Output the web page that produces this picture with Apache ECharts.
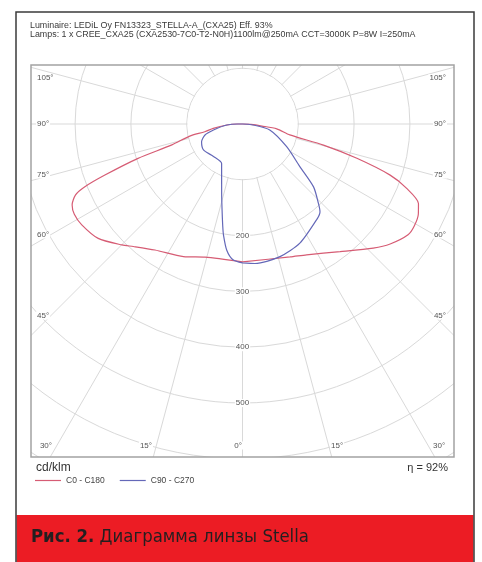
<!DOCTYPE html>
<html>
<head>
<meta charset="utf-8">
<script src="https://cdn.jsdelivr.net/npm/echarts@6.0.0/dist/echarts.min.js"></script>
<style>
  html, body { margin: 0; padding: 0; background: #fff; }
  #chart { width: 482px; height: 562px; }
</style>
</head>
<body>
<div id="chart"></div>
<script>
// gamma angle (deg from nadir) and intensity (cd/klm)
// C0 - C180 plane: left half = C180, right half = C0
const c180Deg = [0, 15.7, 24, 34.8, 41.7, 44.9, 51.6, 57.9, 61.8, 64.6, 67, 68.3, 69.65, 71.8, 73.5, 77.1, 78.4, 81.6, 86.4, 90];
const c180Val = [247, 248, 260, 275, 294, 306, 330, 340, 342, 338, 325, 304, 263, 197, 132, 97, 69, 53, 28, 10];
const c0Deg = [0, 19.65, 26.1, 37.4, 46.5, 50.9, 56.2, 59.3, 62.9, 65.7, 68.6, 70.9, 73.3, 75.4, 77, 82, 84, 87, 90];
const c0Val = [247, 253, 261, 288, 323, 341, 357, 358, 354, 346, 316, 280, 214, 150, 87, 62, 35, 15, 0];
// C90 - C270 plane: left half = C270, right half = C90
const c270Deg = [0, 4, 7.1, 9.7, 10.9, 13.4, 16.7, 22.2, 27.9, 41.8, 56.4, 66.5, 73.7, 78.4, 86.4, 90];
const c270Val = [249, 244, 228, 202, 187, 158, 130, 99, 80, 78, 84, 80, 70, 53, 28, 8];
const c90Deg = [0, 5.1, 15.8, 25.7, 37.7, 41.4, 43.7, 48.5, 53.4, 62.8, 77.7, 84.7, 90];
const c90Val = [249, 251, 247, 237, 217, 210, 197, 170, 128, 89, 50, 19, 0];

const seriesNames = ['C0 - C180', 'C90 - C270'];
const radiusLabels = [200, 300, 400, 500];
const angleLabelsLeft = ['105°', '90°', '75°', '60°', '45°', '30°', '15°', '0°'];
const angleLabelsRight = ['105°', '90°', '75°', '60°', '45°', '30°', '15°'];

const titleLine1 = 'Luminaire: LEDiL Oy FN13323_STELLA-A_(CXA25) Eff. 93%';
const titleLine2 = 'Lamps: 1 x CREE_CXA25 (CXA2530-7C0-T2-N0H)1100lm@250mA CCT=3000K P=8W I=250mA';

// closed curve: left half going up, then right half coming back down
function curve(lDeg, lVal, rDeg, rVal) {
  const pts = lDeg.map((d, i) => [lVal[i], d]);
  const right = rDeg.map((d, i) => [rVal[i], 360 - d]).reverse();
  return pts.concat(right);
}

const cx = 242.5, cy = 124;
const box = { x: 31, y: 65, w: 423, h: 392 };
const gridColor = '#d9d9d9';
const smallFont = '8px "Liberation Sans", Arial, sans-serif';
const captionFamily = '"Liberation Sans Narrow", "DejaVu Sans Condensed", "Roboto", sans-serif';

// label spots where the spokes leave the frame
const leftSpots = [[36, 78], [36, 124], [36, 174.5], [36, 234.5], [36, 315.5], [53, 445.5], [153, 445.5], [243, 445.5]];
const rightSpots = [[447, 78], [447, 124], [447, 174.5], [447, 234.5], [447, 315.5], [432, 445.5], [330, 445.5]];

const labels = [];
angleLabelsLeft.forEach((t, i) => {
  const p = leftSpots[i];
  labels.push({
    type: 'text', x: p[0], y: p[1], z: 4, silent: true,
    style: { text: t, font: smallFont, fill: '#555', align: i < 5 ? 'left' : 'right', verticalAlign: 'middle', backgroundColor: '#fff', padding: [0, 1] }
  });
});
angleLabelsRight.forEach((t, i) => {
  const p = rightSpots[i];
  labels.push({
    type: 'text', x: p[0], y: p[1], z: 4, silent: true,
    style: { text: t, font: smallFont, fill: '#555', align: i < 5 ? 'right' : 'left', verticalAlign: 'middle', backgroundColor: '#fff', padding: [0, 1] }
  });
});

const chart = echarts.init(document.getElementById('chart'));

const option = {
  backgroundColor: '#fff',
  animation: false,
  title: {
    text: titleLine1,
    subtext: titleLine2,
    left: 30,
    top: 21.5,
    padding: 0,
    itemGap: 0,
    textStyle: { fontSize: 8.9, fontWeight: 'normal', color: '#3a3a3a', fontFamily: 'Liberation Sans' },
    subtextStyle: { fontSize: 8.9, color: '#3a3a3a', fontFamily: 'Liberation Sans' }
  },
  legend: {
    data: seriesNames,
    left: 35,
    top: 476,
    padding: 0,
    icon: 'rect',
    itemWidth: 26,
    itemHeight: 1.2,
    itemGap: 15,
    textStyle: { fontSize: 8.5, color: '#444', fontFamily: 'Liberation Sans' }
  },
  polar: {
    center: [cx, cy],
    radius: 390.6
  },
  angleAxis: {
    type: 'value',
    min: 0,
    max: 360,
    interval: 15,
    startAngle: 270,
    clockwise: true,
    z: 0,
    axisLine: { show: false },
    axisTick: { show: false },
    axisLabel: { show: false },
    splitLine: { show: true, lineStyle: { color: gridColor, width: 1 } }
  },
  radiusAxis: {
    type: 'value',
    min: 0,
    max: 700,
    interval: 100,
    z: 1,
    axisLine: { show: false },
    axisTick: { show: false },
    axisLabel: {
      formatter: v => (radiusLabels.indexOf(v) >= 0 ? String(v) : ''),
      margin: 0,
      align: 'center',
      verticalAlign: 'middle',
      fontSize: 8,
      color: '#555',
      fontFamily: 'Liberation Sans',
      backgroundColor: '#fff',
      padding: [0, 1]
    },
    splitLine: { show: true, lineStyle: { color: gridColor, width: 1 } }
  },
  series: [
    {
      name: seriesNames[0],
      type: 'line',
      coordinateSystem: 'polar',
      data: curve(c180Deg, c180Val, c0Deg, c0Val),
      showSymbol: false,
      smooth: 0.25,
      z: 3,
      color: '#d65c74',
      lineStyle: { width: 1.2, color: '#d65c74' }
    },
    {
      name: seriesNames[1],
      type: 'line',
      coordinateSystem: 'polar',
      data: curve(c270Deg, c270Val, c90Deg, c90Val),
      showSymbol: false,
      smooth: 0.25,
      z: 3,
      color: '#6468b8',
      lineStyle: { width: 1.2, color: '#6468b8' }
    }
  ],
  graphic: [
    // white masks outside the plot frame
    { type: 'rect', z: 2, silent: true, shape: { x: 0, y: 0, width: 482, height: box.y }, style: { fill: '#fff' } },
    { type: 'rect', z: 2, silent: true, shape: { x: 0, y: box.y + box.h, width: 482, height: 562 - box.y - box.h }, style: { fill: '#fff' } },
    { type: 'rect', z: 2, silent: true, shape: { x: 0, y: 0, width: box.x, height: 562 }, style: { fill: '#fff' } },
    { type: 'rect', z: 2, silent: true, shape: { x: box.x + box.w, y: 0, width: 482 - box.x - box.w, height: 562 }, style: { fill: '#fff' } },
    // blank centre (spokes start at 100 cd/klm)
    { type: 'circle', z: 2, silent: true, shape: { cx: cx, cy: cy, r: 55 }, style: { fill: '#fff' } },
    // plot frame
    { type: 'rect', z: 4, silent: true, shape: { x: box.x, y: box.y, width: box.w, height: box.h }, style: { fill: null, stroke: '#a3a3a3', lineWidth: 1.5 } },
    ...labels,
    { type: 'text', x: 36, y: 468, z: 4, silent: true, style: { text: 'cd/klm', font: '12px "Liberation Sans", Arial, sans-serif', fill: '#333', align: 'left', verticalAlign: 'middle' } },
    { type: 'text', x: 448, y: 468, z: 4, silent: true, style: { text: 'η = 92%', font: '11px "Liberation Sans", Arial, sans-serif', fill: '#333', align: 'right', verticalAlign: 'middle' } },
    // caption band
    { type: 'rect', z: 5, silent: true, shape: { x: 16.5, y: 515, width: 457, height: 50 }, style: { fill: '#ec1c24' } },
    { type: 'rect', z: 6, silent: true, shape: { x: 16, y: 12, width: 458, height: 600 }, style: { fill: null, stroke: '#3b3b3b', lineWidth: 1.5 } },
    {
      type: 'text', x: 31, y: 537, z: 7, silent: true,
      style: {
        text: '{b|Рис. 2.} Диаграмма линзы Stella',
        font: '18.4px ' + captionFamily,
        fill: '#231f20',
        align: 'left',
        verticalAlign: 'middle',
        rich: {
          b: { font: 'bold 18.4px ' + captionFamily, fill: '#231f20' }
        }
      }
    }
  ]
};

chart.setOption(option);
</script>
</body>
</html>
